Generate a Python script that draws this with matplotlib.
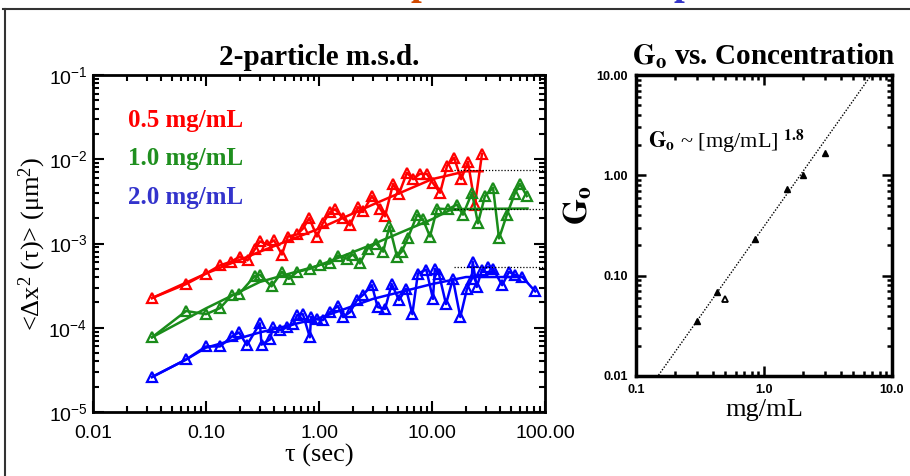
import matplotlib.pyplot as plt
import numpy as np
from matplotlib.ticker import LogLocator, NullFormatter

plt.rcParams['font.family'] = 'Liberation Sans'
plt.rcParams['mathtext.default'] = 'regular'
plt.rcParams['mathtext.fontset'] = 'stix'

# 0.5 mg/mL - raw msd
red_tau = [0.0333, 0.0667, 0.1, 0.133, 0.167, 0.2, 0.233, 0.27, 0.3, 0.35, 0.4, 0.47, 0.53,
           0.64, 0.72, 0.82, 0.96, 1.08, 1.25, 1.39, 1.63, 1.88, 2.21, 2.45, 2.94, 3.47, 3.84,
           4.52, 5.1, 6.0, 6.8, 7.8, 9.0, 10.2, 11.8, 13.6, 15.7, 18.1, 20.8, 24.0, 27.7]
red_msd = [2.25e-4, 3.3e-4, 4.4e-4, 5.5e-4, 6.1e-4, 7.0e-4, 6.3e-4, 8.5e-4, 1.06e-3, 9.7e-4,
           1.09e-3, 7.4e-4, 1.21e-3, 1.28e-3, 1.5e-3, 2.0e-3, 1.21e-3, 1.74e-3, 2.35e-3, 2.55e-3,
           2.0e-3, 1.64e-3, 2.7e-3, 2.4e-3, 3.65e-3, 2.6e-3, 2.1e-3, 5.1e-3, 3.9e-3, 6.9e-3,
           5.8e-3, 6.7e-3, 6.7e-3, 5.2e-3, 4.0e-3, 8.4e-3, 1.04e-2, 5.8e-3, 9.3e-3, 2.9e-3, 1.16e-2]
red_fit_tau = [0.0333, 0.1, 0.3, 1.0, 3.0, 10, 20, 28]
red_fit_msd = [2.25e-4, 4.4e-4, 8.0e-4, 1.5e-3, 2.9e-3, 5.8e-3, 7.2e-3, 7.2e-3]

# 1.0 mg/mL
green_tau = [0.0333, 0.0667, 0.1, 0.133, 0.17, 0.196, 0.27, 0.3, 0.38, 0.47, 0.54, 0.64, 0.83,
             1.02, 1.25, 1.47, 1.77, 2.0, 2.3, 2.7, 3.2, 3.7, 4.2, 4.9, 5.4, 6.1, 7.4, 8.3, 9.6,
             11.1, 13.9, 16.6, 18.8, 22.6, 25.5, 29.4, 34.7, 39.2, 46, 54, 60, 69]
green_msd = [7.7e-5, 1.58e-4, 1.45e-4, 1.71e-4, 2.45e-4, 2.52e-4, 4.1e-4, 4.25e-4, 3.1e-4, 4.6e-4,
             3.8e-4, 4.6e-4, 5.0e-4, 5.6e-4, 5.8e-4, 7.2e-4, 6.6e-4, 7.4e-4, 5.8e-4, 8.7e-4, 1.0e-3,
             8.0e-4, 1.6e-3, 7.0e-4, 8.0e-4, 1.15e-3, 2.2e-3, 1.94e-3, 1.21e-3, 2.6e-3, 2.55e-3,
             2.9e-3, 2.2e-3, 4.0e-3, 1.74e-3, 3.65e-3, 4.6e-3, 1.15e-3, 2.2e-3, 3.9e-3, 5.1e-3, 3.65e-3]
green_fit_tau = [0.0333, 0.1, 0.3, 1.0, 3.0, 10, 15, 70]
green_fit_msd = [7.7e-5, 1.7e-4, 3.5e-4, 5.5e-4, 9.8e-4, 1.94e-3, 2.56e-3, 2.6e-3]

# 2.0 mg/mL
blue_tau = [0.0333, 0.0667, 0.1, 0.133, 0.17, 0.196, 0.23, 0.3, 0.31, 0.37, 0.39, 0.45, 0.52,
            0.59, 0.64, 0.72, 0.83, 0.85, 0.96, 1.08, 1.25, 1.47, 1.63, 1.88, 2.17, 2.45, 2.94,
            3.3, 3.84, 4.4, 5.1, 5.9, 6.7, 7.5, 8.9, 10.2, 10.6, 11.5, 13.3, 15.3, 17.8, 20.4,
            22.5, 22.9, 24.9, 27.7, 31.5, 34.7, 41.8, 48, 54, 63, 82]
blue_msd = [2.6e-5, 4.2e-5, 6.0e-5, 6.0e-5, 7.9e-5, 8.8e-5, 6.2e-5, 1.13e-4, 6.3e-5, 7.3e-5,
            1.01e-4, 9.3e-5, 1.01e-4, 1.1e-4, 1.41e-4, 1.45e-4, 7.7e-5, 1.34e-4, 1.26e-4, 1.23e-4,
            1.53e-4, 1.81e-4, 1.34e-4, 1.53e-4, 2.13e-4, 2.45e-4, 3.2e-4, 1.76e-4, 1.67e-4, 3.3e-4,
            2.13e-4, 2.9e-4, 1.45e-4, 4.4e-4, 4.9e-4, 2.2e-4, 5.0e-4, 4.4e-4, 1.91e-4, 3.8e-4,
            1.34e-4, 2.9e-4, 3.8e-4, 6.1e-4, 3.05e-4, 4.9e-4, 5.3e-4, 5.0e-4, 3.2e-4, 4.6e-4,
            4.25e-4, 4.0e-4, 2.7e-4]
blue_fit_tau = [0.0333, 0.0667, 0.1, 0.3, 1.0, 3.0, 10, 20, 30, 65]
blue_fit_msd = [2.6e-5, 4.2e-5, 5.8e-5, 8.8e-5, 1.3e-4, 2.2e-4, 3.3e-4, 4.0e-4, 4.0e-4, 4.0e-4]

plateau_msd = [7.5e-3, 2.56e-3, 5.3e-4]
plateau_tau = [15.6, 100]

labels = ['0.5 mg/mL', '1.0 mg/mL', '2.0 mg/mL']
line_colors = ['#ff0000', '#1a8c1a', '#0000ff']
text_colors = ['#ff0000', '#1f8f1f', '#3333cc']

# G0 vs concentration
conc = [0.3, 0.43, 0.85, 1.5, 2.0, 3.0]
g0 = [0.035, 0.068, 0.23, 0.73, 1.0, 1.67]
conc_open = [0.5]
g0_open = [0.059]
fit_exp = 1.8
fit_c = np.array([0.15, 6.98])
fit_g = 0.31 * fit_c ** fit_exp

fig = plt.figure(figsize=(9.1, 4.76), dpi=100)

# slide frame + bits of the slide heading cut off at the top
fig.add_artist(plt.Line2D([3 / 910, 1], [1 - 9 / 476] * 2, color='#333333', lw=1.5))
fig.add_artist(plt.Line2D([5 / 910] * 2, [0, 1 - 9 / 476], color='#333333', lw=1.5))
fig.text(421 / 910, 1 + 6 / 476, 'p', color='#d24a00', fontsize=28, fontweight='bold',
         family='Liberation Serif', ha='center', va='baseline')
fig.text(684 / 910, 1 + 6 / 476, 'p', color='#3535c8', fontsize=28, fontweight='bold',
         family='Liberation Serif', ha='center', va='baseline')

# ---- left panel
ax = fig.add_axes([93 / 910, 1 - 412 / 476, 452 / 910, 337 / 476])
series = [(red_tau, red_msd, red_fit_tau, red_fit_msd),
          (green_tau, green_msd, green_fit_tau, green_fit_msd),
          (blue_tau, blue_msd, blue_fit_tau, blue_fit_msd)]
for (t, m, ft, fm), c in zip(series, line_colors):
    ax.plot(ft, fm, color=c, lw=1.8)
    ax.plot(t, m, color=c, lw=1.8, marker='^', mfc='none', mec=c, ms=7, mew=1.6)
for p in plateau_msd:
    ax.plot(plateau_tau, [p, p], color='black', lw=0.9, ls=(0, (1, 1.5)))

ax.set_xscale('log')
ax.set_yscale('log')
ax.set_xlim(0.01, 100)
ax.set_ylim(1e-5, 1e-1)
ax.set_xticks([0.01, 0.1, 1, 10, 100])
ax.set_xticklabels(['0.01', '0.10', '1.00', '10.00', '100.00'])
ax.set_yticks([1e-5, 1e-4, 1e-3, 1e-2, 1e-1])
ax.set_yticklabels(['10$^{-5}$', '10$^{-4}$', '10$^{-3}$', '10$^{-2}$', '10$^{-1}$'])
ax.xaxis.set_minor_locator(LogLocator(base=10, subs=np.arange(2, 10)))
ax.yaxis.set_minor_locator(LogLocator(base=10, subs=np.arange(2, 10)))
ax.xaxis.set_minor_formatter(NullFormatter())
ax.yaxis.set_minor_formatter(NullFormatter())
ax.tick_params(which='both', direction='in', top=True, right=True, width=1.5, labelsize=14)
ax.tick_params(which='major', length=8)
ax.tick_params(which='minor', length=4)
ax.tick_params(axis='x', pad=9)
ax.tick_params(axis='y', pad=4)
for s in ax.spines.values():
    s.set_linewidth(2)

for i, (lab, c) in enumerate(zip(labels, text_colors)):
    ax.text(0.078, 0.865 - i * 0.114, lab, transform=ax.transAxes, color=c, fontsize=18,
            fontweight='bold', family='Liberation Serif', va='center')

ax.set_title('2-particle m.s.d.', fontsize=21, fontweight='bold', family='Liberation Serif', pad=7)
ax.set_xlabel('τ (sec)', fontsize=19, family='Liberation Serif', labelpad=2)
ax.set_ylabel('<Δx$^2$ (τ)> (μm$^2$)', fontsize=19, family='Liberation Serif', labelpad=0)

# ---- right panel
ax2 = fig.add_axes([636 / 910, 1 - 376 / 476, 256 / 910, 301 / 476])
ax2.plot(fit_c, fit_g, color='black', lw=1, ls=(0, (1, 1.2)))
ax2.plot(conc, g0, ls='none', marker='^', color='black', ms=5)
ax2.plot(conc_open, g0_open, ls='none', marker='^', mfc='none', mec='black', ms=5, mew=1.3)
ax2.set_xscale('log')
ax2.set_yscale('log')
ax2.set_xlim(0.1, 10)
ax2.set_ylim(0.01, 10)
ax2.set_xticks([0.1, 1, 10])
ax2.set_xticklabels(['0.1', '1.0', '10.0'])
ax2.set_yticks([0.01, 0.1, 1, 10])
ax2.set_yticklabels(['0.01', '0.10', '1.00', '10.00'])
ax2.xaxis.set_minor_locator(LogLocator(base=10, subs=np.arange(2, 10)))
ax2.yaxis.set_minor_locator(LogLocator(base=10, subs=np.arange(2, 10)))
ax2.xaxis.set_minor_formatter(NullFormatter())
ax2.yaxis.set_minor_formatter(NullFormatter())
ax2.tick_params(which='both', direction='in', top=True, right=True, width=1.8, labelsize=9)
ax2.tick_params(which='major', length=7, pad=6)
ax2.tick_params(which='minor', length=3.5)
for s in ax2.spines.values():
    s.set_linewidth(2.5)
for t in ax2.get_xticklabels() + ax2.get_yticklabels():
    t.set_fontweight('bold')

ax2.text(0.045, 0.78, r'$\mathbf{G_o}$ ~ [mg/mL] $^{\mathbf{1.8}}$', transform=ax2.transAxes,
         fontsize=16, family='Liberation Serif', va='center')
ax2.set_title(r'$\mathbf{G_o}$ vs. Concentration', fontsize=21, fontweight='bold',
              family='Liberation Serif', pad=7)
ax2.set_xlabel('mg/mL', fontsize=19, family='Liberation Serif', labelpad=2)
fig.text(578 / 910, 1 - 205 / 476, r'$\mathbf{G_o}$', rotation=90, fontsize=24,
         ha='center', va='center')

fig.savefig('out.png', dpi=100)
